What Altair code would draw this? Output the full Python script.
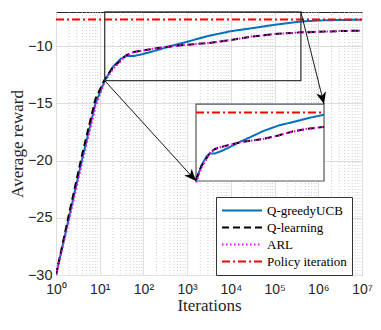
import json
import math
import altair as alt
import pandas as pd

# ---------------- data ----------------
ITERS = [1, 2, 4, 8, 13, 20, 30, 40, 60, 100, 200, 500, 1000, 3000,
         1e4, 3e4, 1e5, 4e5, 1e6, 3e6, 1e7]
Q_GREEDY_UCB = [-30, -24.9, -19.8, -15.0, -13.0, -11.8, -11.1, -10.85, -10.85, -10.67,
                -10.35, -9.9, -9.6, -9.1, -8.68, -8.42, -8.12, -7.83, -7.74, -7.70, -7.68]
Q_LEARNING = [-30, -24.6, -19.4, -14.6, -12.9, -11.85, -11.25, -10.8, -10.5, -10.35,
              -10.17, -9.97, -9.86, -9.72, -9.45, -9.15, -8.93, -8.78, -8.73, -8.67, -8.63]
ARL = [-30, -25.2, -20.1, -15.3, -13.1, -12.0, -11.3, -10.8, -10.5, -10.35,
       -10.17, -9.97, -9.86, -9.72, -9.45, -9.15, -8.93, -8.78, -8.73, -8.67, -8.63]
POLICY_ITERATION = -7.65

SERIES = ["Q-greedyUCB", "Q-learning", "ARL", "Policy iteration"]

X_TICKS = [1, 10, 100, 1000, 1e4, 1e5, 1e6, 1e7]
X_TICK_LABELS = ["10⁰", "10¹", "10²", "10³", "10⁴", "10⁵", "10⁶", "10⁷"]
Y_TICKS = [-30, -25, -20, -15, -10]
MINOR_X = [m * 10 ** k for k in range(7) for m in range(2, 10)]

# zoom box (main data coords) and where the inset sits (main data coords)
BOX_X = [13, 4e5]
BOX_Y = [-13, -7]
INSET_X = [1596, 1.353e6]
INSET_Y = [-21.78, -15.05]

# ---------------- styles ----------------
COLORS = ["#0072BD", "#000000", "#FF00FF", "#FF0000"]
DASHES = [[1, 0], [7, 4], [1.5, 2.5], [8, 3, 2, 3]]
WIDTHS = [2, 2, 2.5, 2]
AXIS_COLOR = "#262626"

rows = []
for name, vals in zip(SERIES[:3], [Q_GREEDY_UCB, Q_LEARNING, ARL]):
    for x, y in zip(ITERS, vals):
        rows.append({"iter": x, "reward": y, "series": name})
for x in ITERS:
    rows.append({"iter": x, "reward": POLICY_ITERATION, "series": "Policy iteration"})
df = pd.DataFrame(rows)

xscale = alt.Scale(type="log", domain=[1, 1e7], nice=False)
yscale = alt.Scale(domain=[-30, -7], nice=False, zero=False)

legend = alt.Legend(
    orient="none", legendX=160, legendY=185, title=None,
    symbolType="stroke", symbolSize=1600, symbolStrokeWidth=2,
    clipHeight=17, labelFont="Liberation Serif", labelFontSize=13,
    labelColor="black", fillColor="white", strokeColor="#333333",
    padding=5, labelOffset=4, rowPadding=0, labelLimit=200,
)
color_enc = alt.Color("series:N", scale=alt.Scale(domain=SERIES, range=COLORS),
                      legend=legend, sort=SERIES)
dash_enc = alt.StrokeDash("series:N", scale=alt.Scale(domain=SERIES, range=DASHES),
                          legend=legend, sort=SERIES)
width_enc = alt.StrokeWidth("series:N", scale=alt.Scale(domain=SERIES, range=WIDTHS),
                            legend=None)

label_expr = "%s[round(log(datum.value)/LN10)]" % json.dumps(X_TICK_LABELS, ensure_ascii=False)

x_axis = alt.Axis(values=X_TICKS, labelExpr=label_expr, title="Iterations",
                  grid=True, gridColor="#dedede", gridWidth=1, ticks=False, domain=False,
                  labelFont="Liberation Sans", labelFontSize=14, labelColor=AXIS_COLOR,
                  labelPadding=7, labelFlush=False,
                  titleFont="Liberation Serif", titleFontSize=17, titleFontWeight="normal",
                  titleColor=AXIS_COLOR, titlePadding=1)
y_axis = alt.Axis(values=Y_TICKS, title="Average reward",
                  grid=True, gridColor="#dedede", gridWidth=1, ticks=False, domain=False,
                  labelFont="Liberation Sans", labelFontSize=14.5, labelColor=AXIS_COLOR,
                  labelPadding=4,
                  titleFont="Liberation Serif", titleFontSize=17, titleFontWeight="normal",
                  titleColor=AXIS_COLOR, titlePadding=1)


def X(field):
    return alt.X(field, scale=xscale, axis=x_axis)


def Y(field):
    return alt.Y(field, scale=yscale, axis=y_axis)


# minor grid
minor_df = pd.DataFrame({"v": MINOR_X})
minor = alt.Chart(minor_df).mark_rule(
    color="#c4c4c4", strokeDash=[1, 2], strokeWidth=0.8
).encode(x=X("v:Q"))

main_lines = alt.Chart(df).mark_line(clip=True).encode(
    x=X("iter:Q"), y=Y("reward:Q"),
    color=color_enc, strokeDash=dash_enc, strokeWidth=width_enc,
    order=alt.Order("iter:Q"),
)

box_df = pd.DataFrame({"x0": [BOX_X[0]], "x1": [BOX_X[1]], "y0": [BOX_Y[0]], "y1": [BOX_Y[1]]})
box = alt.Chart(box_df).mark_rect(filled=False, stroke="#3c3c3c", strokeWidth=1.3).encode(
    x=X("x0:Q"), x2="x1:Q", y=Y("y0:Q"), y2="y1:Q",
)

inset_df = pd.DataFrame({"x0": [INSET_X[0]], "x1": [INSET_X[1]], "y0": [INSET_Y[0]], "y1": [INSET_Y[1]]})
inset_frame = alt.Chart(inset_df).mark_rect(fill="white", stroke="#555555", strokeWidth=1.2).encode(
    x=X("x0:Q"), x2="x1:Q", y=Y("y0:Q"), y2="y1:Q",
)

lb0, lb1 = math.log10(BOX_X[0]), math.log10(BOX_X[1])
li0, li1 = math.log10(INSET_X[0]), math.log10(INSET_X[1])
x_expr = "pow(10, %r + (log(datum.iter)/LN10 - %r) / %r * %r)" % (li0, lb0, lb1 - lb0, li1 - li0)
y_expr = "%r + (datum.reward - %r) / %r * %r" % (INSET_Y[0], BOX_Y[0], BOX_Y[1] - BOX_Y[0], INSET_Y[1] - INSET_Y[0])

inset_lines = alt.Chart(df).transform_filter(
    (alt.datum.iter >= BOX_X[0]) & (alt.datum.iter <= BOX_X[1])
).transform_calculate(xi=x_expr, yi=y_expr).mark_line().encode(
    x=X("xi:Q"), y=Y("yi:Q"),
    color=color_enc, strokeDash=dash_enc, strokeWidth=width_enc,
    order=alt.Order("iter:Q"),
)

arrows_df = pd.DataFrame({
    "x": [BOX_X[0], BOX_X[1]], "y": [BOX_Y[0], BOX_Y[1]],
    "x2": [INSET_X[0], INSET_X[1]], "y2": [INSET_Y[0], INSET_Y[1]],
})
arrow_lines = alt.Chart(arrows_df).mark_rule(color="black", strokeWidth=0.9).encode(
    x=X("x:Q"), x2="x2:Q", y=Y("y:Q"), y2="y2:Q",
)
HEAD = "M0,0L-0.42,1L0,0.72L0.42,1Z"
head1 = alt.Chart(arrows_df.iloc[[0]]).mark_point(
    shape=HEAD, filled=True, color="black", size=576, angle=137.7, opacity=1
).encode(x=X("x2:Q"), y=Y("y2:Q"))
head2 = alt.Chart(arrows_df.iloc[[1]]).mark_point(
    shape=HEAD, filled=True, color="black", size=576, angle=165.8, opacity=1
).encode(x=X("x2:Q"), y=Y("y2:Q"))

chart = alt.layer(
    minor, main_lines, box, inset_frame, inset_lines, arrow_lines, head1, head2
).properties(
    width=306, height=263,
    autosize=alt.AutoSizeParams(type="none"),
    padding={"left": 48, "top": 4, "right": 11, "bottom": 43},
    background="white",
).configure_view(
    stroke=AXIS_COLOR, strokeWidth=1
)

chart.save("out.html", embed_options={"renderer": "svg", "actions": False})
